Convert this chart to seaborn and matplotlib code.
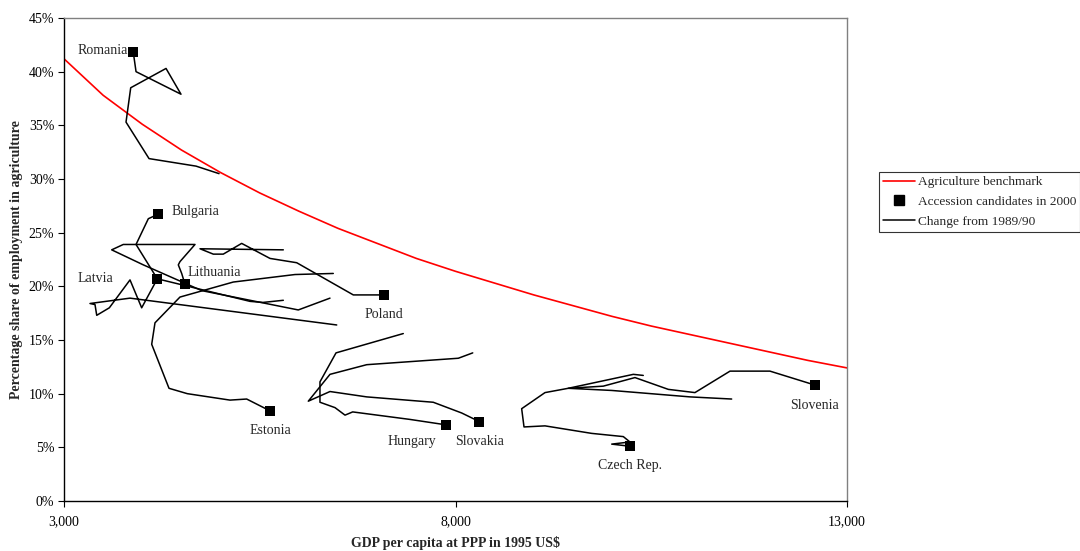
import pandas as pd
import matplotlib
matplotlib.use('Agg')
import matplotlib.pyplot as plt
import seaborn as sns
from matplotlib.lines import Line2D
from matplotlib.ticker import FuncFormatter

# agriculture benchmark curve (GDP per capita, % employment in agriculture)
bench_gdp = [3000, 3500, 4000, 4500, 5000, 5500, 6000, 6500, 7000, 7500, 8000,
             8500, 9000, 9500, 10000, 10500, 11000, 11500, 12000, 12500, 13000]
bench_agri = [41.2, 37.8, 35.1, 32.7, 30.6, 28.7, 27.0, 25.4, 24.0, 22.6, 21.4,
              20.3, 19.2, 18.2, 17.2, 16.3, 15.5, 14.7, 13.9, 13.1, 12.4]

# paths from 1989/90 to 2000 (last point = 2000)
romania_gdp = [4980, 4686, 4086, 3792, 3852, 4303, 4494, 3920, 3885]
romania_agri = [30.5, 31.2, 31.9, 35.3, 38.5, 40.3, 37.9, 40.0, 41.8]
bulgaria_gdp = [5801, 5541, 5375, 4192, 3920, 4077, 4197]
bulgaria_agri = [18.7, 18.5, 18.6, 20.7, 23.9, 26.3, 26.7]
lithuania_gdp = [6397, 5992, 4759, 4013, 3609, 3757, 3920, 4673, 4481, 4460, 4503, 4545]
lithuania_agri = [18.9, 17.8, 19.6, 22.0, 23.4, 23.9, 23.9, 23.9, 22.3, 22.0, 21.2, 20.2]
latvia_gdp = [6483, 3843, 3332, 3396, 3418, 3579, 3843, 3992, 4192]
latvia_agri = [16.4, 18.9, 18.4, 18.3, 17.3, 18.0, 20.6, 18.0, 20.7]
poland_gdp = [5801, 4737, 4907, 5034, 5269, 5631, 5972, 6695, 7087]
poland_agri = [23.4, 23.5, 23.0, 23.0, 24.0, 22.6, 22.2, 19.2, 19.2]
estonia_gdp = [6439, 5950, 5162, 4481, 4162, 4120, 4341, 4575, 5120, 5333, 5631]
estonia_agri = [21.2, 21.1, 20.4, 19.0, 16.6, 14.6, 10.5, 10.0, 9.4, 9.5, 8.4]
hungary_gdp = [7333, 6474, 6269, 6269, 6461, 6589, 6687, 7419, 7875]
hungary_agri = [15.6, 13.8, 11.1, 9.2, 8.7, 8.0, 8.3, 7.6, 7.1]
slovakia_gdp = [8220, 8036, 6866, 6397, 6120, 6397, 6866, 7716, 8079, 8304]
slovakia_agri = [13.8, 13.3, 12.7, 11.8, 9.3, 10.2, 9.7, 9.2, 8.2, 7.4]
czech_gdp = [10398, 10271, 9440, 9143, 8845, 8875, 9143, 9739, 10143, 10228, 9995, 10228]
czech_agri = [11.7, 11.8, 10.5, 10.1, 8.6, 6.9, 7.0, 6.3, 6.0, 5.5, 5.3, 5.1]
slovenia_gdp = [11527, 10995, 9995, 9440, 9887, 10292, 10718, 11058, 11506, 12016, 12591]
slovenia_agri = [9.5, 9.7, 10.3, 10.5, 10.7, 11.5, 10.4, 10.1, 12.1, 12.1, 10.8]

countries = ['Romania', 'Bulgaria', 'Lithuania', 'Latvia', 'Poland', 'Estonia',
             'Hungary', 'Slovakia', 'Czech Rep.', 'Slovenia']
# label offsets from the 2000 marker, in points
label_dx = [-4, 10, 2, -32, 0, 0, -24, 0, 0, 0]
label_dy = [1.5, 2, 8.6, 0, -14.4, -14.4, -12.2, -14.6, -13.7, -14.4]
label_ha = ['right', 'left', 'left', 'right', 'center', 'center', 'center',
            'center', 'center', 'center']

series = [(romania_gdp, romania_agri), (bulgaria_gdp, bulgaria_agri),
          (lithuania_gdp, lithuania_agri), (latvia_gdp, latvia_agri),
          (poland_gdp, poland_agri), (estonia_gdp, estonia_agri),
          (hungary_gdp, hungary_agri), (slovakia_gdp, slovakia_agri),
          (czech_gdp, czech_agri), (slovenia_gdp, slovenia_agri)]

frames = []
for name, (g, a) in zip(countries, series):
    frames.append(pd.DataFrame({'gdp': g, 'agri': a, 'country': name}))
df = pd.concat(frames, ignore_index=True)
last = df.groupby('country', sort=False).tail(1)
bench = pd.DataFrame({'gdp': bench_gdp, 'agri': bench_agri})

sns.set_style('white')
plt.rcParams['font.family'] = ['Liberation Serif', 'DejaVu Serif']
plt.rcParams['font.size'] = 10

fig = plt.figure(figsize=(10.8, 5.51), dpi=100)
ax = fig.add_axes([64 / 1080, 50 / 551, 783 / 1080, 483 / 551])

sns.lineplot(data=bench, x='gdp', y='agri', color='red', lw=1.2, ax=ax, sort=False)
sns.lineplot(data=df, x='gdp', y='agri', units='country', estimator=None, sort=False,
             color='black', lw=1.1, ax=ax, legend=False)
sns.scatterplot(data=last, x='gdp', y='agri', marker='s', s=55, color='black',
                linewidth=0, ax=ax, zorder=5)

for i, row in enumerate(last.itertuples()):
    ax.annotate(countries[i], (row.gdp, row.agri), xytext=(label_dx[i], label_dy[i]),
                textcoords='offset points', ha=label_ha[i], va='center', fontsize=10)

ax.set_xlim(3000, 13000)
ax.set_ylim(0, 45)
ax.set_xticks([3000, 8000, 13000])
ax.set_yticks(range(0, 46, 5))
ax.xaxis.set_major_formatter(FuncFormatter(lambda v, p: f'{v:,.0f}'))
ax.yaxis.set_major_formatter(FuncFormatter(lambda v, p: f'{v:.0f}%'))
ax.tick_params(axis='both', direction='out', length=4, width=0.8, colors='black',
               labelsize=10, pad=3, bottom=True, left=True)
ax.tick_params(axis='x', pad=6)

for side in ['left', 'bottom']:
    ax.spines[side].set_color('black')
    ax.spines[side].set_linewidth(1.0)
for side in ['top', 'right']:
    ax.spines[side].set_color('#808080')
    ax.spines[side].set_linewidth(1.0)

ax.set_xlabel('GDP per capita at PPP in 1995 US$', fontweight='bold', fontsize=10,
              labelpad=6)
ax.set_ylabel('Percentage share of employment in agriculture', fontweight='bold',
              fontsize=10, labelpad=4)

handles = [Line2D([], [], color='red', lw=1.2),
           Line2D([], [], color='black', marker='s', linestyle='none', markersize=7),
           Line2D([], [], color='black', lw=1.1)]
labels = ['Agriculture benchmark', 'Accession candidates in 2000', 'Change from 1989/90']
leg = fig.legend(handles, labels, loc='upper left', bbox_to_anchor=(879 / 1080, 1 - 172 / 551),
                 frameon=True, fancybox=False, fontsize=9.6, handlelength=2.4,
                 handletextpad=0.2, labelspacing=0.56, borderpad=0.3, borderaxespad=0)
leg.get_frame().set_edgecolor('black')
leg.get_frame().set_linewidth(0.8)

fig.savefig('out.png', dpi=100)
